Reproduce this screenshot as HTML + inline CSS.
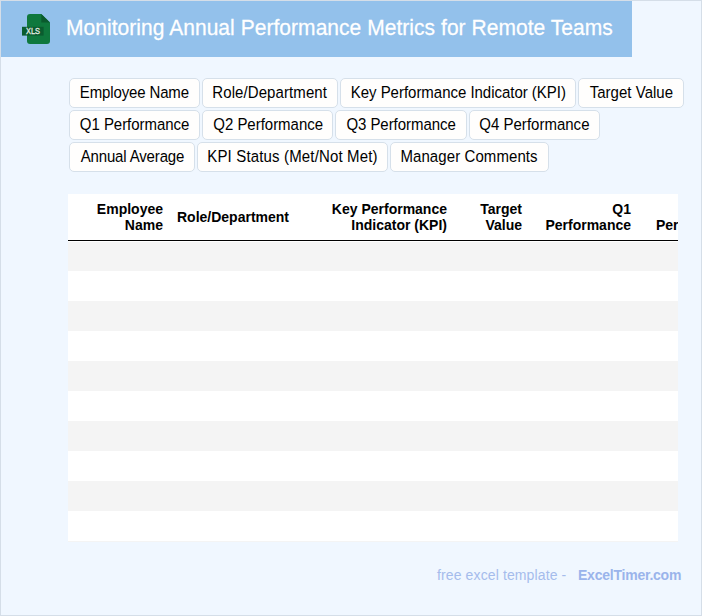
<!DOCTYPE html>
<html>
<head>
<meta charset="utf-8">
<style>
html,body{margin:0;padding:0;}
body{width:702px;height:616px;overflow:hidden;background:#f0f7ff;font-family:"Liberation Sans",sans-serif;position:relative;}
.frame{position:absolute;left:0;top:0;width:700px;height:614px;border:1px solid #d5dee8;}
.hdr{position:absolute;left:1px;top:1px;width:631px;height:56px;background:#93c1eb;}
.title{position:absolute;left:65px;top:15px;color:#fff;font-size:21px;line-height:24px;letter-spacing:0.04px;white-space:nowrap;transform:scaleY(1.045);transform-origin:0 19.3px;-webkit-text-stroke:0.25px #fff;}
.icon{position:absolute;left:20px;top:12px;width:32px;height:34px;}
.chip{position:absolute;height:28px;border:1px solid #d6e0ea;border-radius:5px;background:#fffefd;box-sizing:content-box;font-size:15px;line-height:28px;color:#000;white-space:nowrap;}
.chip span{position:absolute;top:0;transform:scaleY(1.05);transform-origin:0 19.2px;}
.tbl{position:absolute;left:68px;top:194px;width:610px;height:348px;overflow:hidden;background:#fff;}
.th{position:absolute;top:7px;font-weight:bold;font-size:14px;line-height:16px;color:#000;text-align:right;white-space:nowrap;}
.hline{position:absolute;left:0;top:46px;width:610px;height:1px;background:#000;}
.row{position:absolute;left:0;width:610px;height:30px;}
.g{background:#f4f4f4;}
.foot{position:absolute;top:566px;font-size:14px;line-height:18px;color:#a5bcec;white-space:nowrap;}
.fb{font-weight:bold;color:#9ab4eb;}
</style>
</head>
<body>
<div class="frame"></div>
<div class="hdr">

  <div class="title">Monitoring Annual Performance Metrics for Remote Teams</div>
</div>

<svg class="icon" viewBox="20 12 32 34">
  <path d="M30 14 L41.3 14 L50 22.6 L50 41 Q50 44 47 44 L30 44 Q27 44 27 41 L27 17 Q27 14 30 14 Z" fill="#0f783d"/>
  <path d="M41.3 14 L41.3 22.6 L50 22.6 Z" fill="#0a5a2d"/>
  <rect x="22" y="26.8" width="21.6" height="8.8" fill="#0a5c2f"/>
  <text x="26" y="34.3" font-family="Liberation Sans" font-size="8.6" fill="#e4ece4" stroke="#e4ece4" stroke-width="0.3" textLength="14" lengthAdjust="spacingAndGlyphs">XLS</text>
</svg>

<div class="chip" style="left:69px;top:78px;width:129px;"><span style="left:9.86px;letter-spacing:-0.14px;">Employee Name</span></div>
<div class="chip" style="left:202px;top:78px;width:134px;"><span style="left:9.3px;letter-spacing:0.09px;">Role/Department</span></div>
<div class="chip" style="left:340px;top:78px;width:234px;"><span style="left:9.72px;letter-spacing:-0.023px;">Key Performance Indicator (KPI)</span></div>
<div class="chip" style="left:578px;top:78px;width:104px;"><span style="left:10.7px;letter-spacing:0.026px;">Target Value</span></div>
<div class="chip" style="left:69px;top:110px;width:129px;"><span style="left:9.86px;letter-spacing:-0.044px;">Q1 Performance</span></div>
<div class="chip" style="left:202px;top:110px;width:129px;"><span style="left:10.28px;letter-spacing:-0.02px;">Q2 Performance</span></div>
<div class="chip" style="left:335px;top:110px;width:130px;"><span style="left:10.42px;letter-spacing:-0.054px;">Q3 Performance</span></div>
<div class="chip" style="left:469px;top:110px;width:129px;"><span style="left:9.3px;letter-spacing:0.01px;">Q4 Performance</span></div>
<div class="chip" style="left:69px;top:142px;width:124px;"><span style="left:10.7px;letter-spacing:-0.152px;">Annual Average</span></div>
<div class="chip" style="left:197px;top:142px;width:189px;"><span style="left:9.3px;letter-spacing:0.153px;">KPI Status (Met/Not Met)</span></div>
<div class="chip" style="left:390px;top:142px;width:157px;"><span style="left:9.44px;letter-spacing:0.083px;">Manager Comments</span></div>



<div class="tbl">
  <div class="th" style="right:515px;">Employee<br>Name</div>
  <div class="th" style="left:109px;top:15px;text-align:left;">Role/Department</div>
  <div class="th" style="right:231px;">Key Performance<br>Indicator (KPI)</div>
  <div class="th" style="right:156px;">Target<br>Value</div>
  <div class="th" style="right:47px;">Q1<br>Performance</div>
  <div class="th" style="left:588px;">Q2<br>Performance</div>
  <div class="hline"></div>
  <div class="row g" style="top:48px;height:29px;"></div>
  <div class="row" style="top:77px;"></div>
  <div class="row g" style="top:107px;"></div>
  <div class="row" style="top:137px;"></div>
  <div class="row g" style="top:167px;"></div>
  <div class="row" style="top:197px;"></div>
  <div class="row g" style="top:227px;"></div>
  <div class="row" style="top:257px;"></div>
  <div class="row g" style="top:287px;"></div>
  <div class="row" style="top:317px;"></div>
  <div class="row g" style="top:347px;height:1px;"></div>
</div>

<div class="foot" style="left:437px;letter-spacing:0.12px;">free excel template -</div>
<div class="foot fb" style="left:578px;letter-spacing:-0.23px;">ExcelTimer.com</div>
</body>
</html>
